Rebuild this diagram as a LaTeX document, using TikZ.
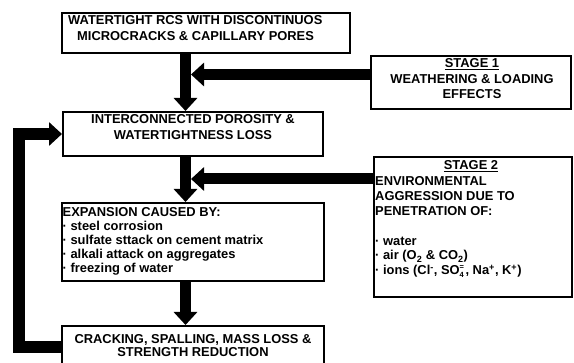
\documentclass[tikz,border=0pt]{standalone}
\usepackage{fontspec}
\setmainfont{Liberation Sans}
\usetikzlibrary{arrows.meta}
\newcommand\fsz[1]{\fontsize{12.9}{#1}\selectfont\bfseries}
\newcommand\ssc[1]{\mbox{\fontsize{7.5}{8}\selectfont\bfseries #1}}
\begin{document}
\begin{tikzpicture}[x=1pt,y=-1pt,
  box/.style={draw, line width=2pt, inner sep=0pt},
  fat/.style={line width=11pt, -{Triangle[width=23pt,length=13pt]}},
  txt/.style={inner sep=0pt, anchor=base west},
  ctxt/.style={inner sep=0pt, anchor=base}]
\useasboundingbox (0,0) rectangle (574,363);
% boxes
\node[box, minimum width=288pt, minimum height=40pt] (b1) at (206,33) {};
\node[box, minimum width=200pt, minimum height=53pt] (s1) at (471,82.5) {};
\node[box, minimum width=260pt, minimum height=44pt] (b2) at (193,134) {};
\node[box, minimum width=198pt, minimum height=140pt] (s2) at (473,227) {};
\node[box, minimum width=262pt, minimum height=78pt] (b3) at (193,242) {};
\node[box, minimum width=262pt, minimum height=42pt] (b4) at (193,347) {};
% texts
\node[txt] (t1) at (68,25) {\fsz{16}\begin{tabular}[t]{@{}l@{}}WATERTIGHT RCS WITH DISCONTINUOS\\\hspace*{9pt}MICROCRACKS \& CAPILLARY PORES\end{tabular}};
\node[ctxt] (ts1) at (472,68) {\fsz{15.5}\begin{tabular}[t]{@{}c@{}}\underline{STAGE 1}\\WEATHERING \& LOADING\\EFFECTS\end{tabular}};
\node[ctxt] (t2) at (193,124) {\fsz{16}\begin{tabular}[t]{@{}c@{}}INTERCONNECTED POROSITY \&\\WATERTIGHTNESS LOSS\end{tabular}};
\node[txt] (t3) at (62.5,217) {\fsz{13.8}\begin{tabular}[t]{@{}l@{}}EXPANSION CAUSED BY:\\· steel corrosion\\· sulfate sttack on cement matrix\\· alkali attack on aggregates\\· freezing of water\end{tabular}};
\node[ctxt] (ts2a) at (471,170) {\fsz{15}\underline{STAGE 2}};
\node[txt] (ts2b) at (375,186) {\fsz{14.8}\begin{tabular}[t]{@{}l@{}}ENVIRONMENTAL\\AGGRESSION DUE TO\\PENETRATION OF:\\ \\· water\\· air (O\textsubscript{2} \& CO\textsubscript{2})\\· ions (Cl\textsuperscript{-}, SO\rlap{\raisebox{-2.5pt}{\ssc{4}}}\raisebox{5pt}{\ssc{=}}\hspace{1.5pt}, Na\textsuperscript{+}, K\textsuperscript{+})\end{tabular}};
\node[ctxt] (t4) at (193,344) {\fsz{13}\begin{tabular}[t]{@{}c@{}}CRACKING, SPALLING, MASS LOSS \&\\STRENGTH REDUCTION\end{tabular}};
% arrows
\coordinate (cA) at (185.5,0);
\draw[fat] (b1.south -| cA) -- (b2.north -| cA);
\draw[fat] (b2.south -| cA) -- (b3.north -| cA);
\draw[fat] (b3.south -| cA) -- (b4.north -| cA);
\coordinate (h1) at (191,74.5);
\draw[fat] (s1.west |- h1) -- (h1);
\coordinate (h2) at (191,179);
\draw[fat] (s2.west |- h2) -- (h2);
\coordinate (fx) at (19,0);
\draw[line width=11.5pt, -{Triangle[width=23pt,length=13pt]}] (b4.west) -- (b4.west -| fx) -- (b2.west -| fx) -- (b2.west);
\end{tikzpicture}
\end{document}
